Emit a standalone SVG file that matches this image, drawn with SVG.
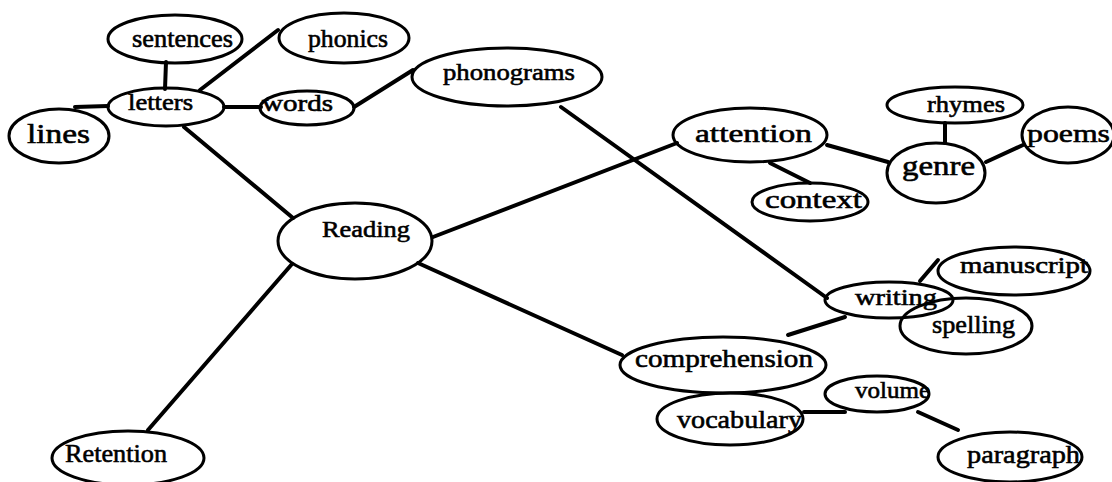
<svg xmlns="http://www.w3.org/2000/svg" width="1112" height="482" viewBox="0 0 1112 482">
  <style>
    .node ellipse { fill: none; stroke: #000; stroke-width: 3; }
    .node text { font-family: "Liberation Serif", "Times New Roman", serif; fill: #000; stroke: #000; stroke-width: 0.6; }
    #connectors line { stroke: #000; stroke-width: 4; stroke-linecap: round; }
  </style>
  <rect width="1112" height="482" fill="#fff"/>

  <!-- links between topics -->
  <g id="connectors">
    <line x1="75" y1="107" x2="108" y2="106"/>
    <line x1="166" y1="62" x2="165" y2="89"/>
    <line x1="200" y1="90" x2="278" y2="30"/>
    <line x1="224" y1="107" x2="261" y2="107"/>
    <line x1="354" y1="107" x2="413" y2="70"/>
    <line x1="184" y1="127" x2="293" y2="218"/>
    <line x1="561" y1="107" x2="827" y2="298"/>
    <line x1="433" y1="237" x2="677" y2="143"/>
    <line x1="770" y1="163" x2="810" y2="183"/>
    <line x1="827" y1="145" x2="888" y2="162"/>
    <line x1="945" y1="123" x2="945" y2="143"/>
    <line x1="986" y1="162" x2="1023" y2="145"/>
    <line x1="920" y1="281" x2="938" y2="260"/>
    <line x1="845" y1="317" x2="788" y2="335"/>
    <line x1="418" y1="263" x2="622" y2="355"/>
    <line x1="804" y1="412" x2="845" y2="412"/>
    <line x1="918" y1="412" x2="958" y2="430"/>
    <line x1="148" y1="430" x2="292" y2="264"/>
  </g>

  <g id="node-sentences" class="node">
    <ellipse cx="175" cy="39" rx="67" ry="24"/>
    <text x="132" y="47" font-size="25" textLength="101" lengthAdjust="spacingAndGlyphs">sentences</text>
  </g>
  <g id="node-phonics" class="node">
    <ellipse cx="344" cy="38" rx="65" ry="25"/>
    <text x="308" y="47" font-size="26" textLength="80" lengthAdjust="spacingAndGlyphs">phonics</text>
  </g>
  <g id="node-letters" class="node">
    <ellipse cx="166" cy="107" rx="58" ry="19"/>
    <text x="128" y="110" font-size="23" textLength="65" lengthAdjust="spacingAndGlyphs">letters</text>
  </g>
  <g id="node-words" class="node">
    <ellipse cx="307" cy="108" rx="47" ry="17"/>
    <text x="262" y="111" font-size="24" textLength="71" lengthAdjust="spacingAndGlyphs">words</text>
  </g>
  <g id="node-lines" class="node">
    <ellipse cx="59" cy="136" rx="50" ry="27"/>
    <text x="27" y="143" font-size="28" textLength="63" lengthAdjust="spacingAndGlyphs">lines</text>
  </g>
  <g id="node-phonograms" class="node">
    <ellipse cx="507" cy="77" rx="95" ry="29"/>
    <text x="443" y="80" font-size="24" textLength="132" lengthAdjust="spacingAndGlyphs">phonograms</text>
  </g>
  <g id="node-reading" class="node">
    <ellipse cx="355" cy="241" rx="77" ry="38"/>
    <text x="322" y="237" font-size="24" textLength="88" lengthAdjust="spacingAndGlyphs">Reading</text>
  </g>
  <g id="node-attention" class="node">
    <ellipse cx="750" cy="135" rx="77" ry="27"/>
    <text x="695" y="142" font-size="26" textLength="117" lengthAdjust="spacingAndGlyphs">attention</text>
  </g>
  <g id="node-context" class="node">
    <ellipse cx="810" cy="202" rx="58" ry="19"/>
    <text x="765" y="208" font-size="26" textLength="97" lengthAdjust="spacingAndGlyphs">context</text>
  </g>
  <g id="node-rhymes" class="node">
    <ellipse cx="955" cy="105" rx="68" ry="18"/>
    <text x="927" y="112" font-size="24" textLength="78" lengthAdjust="spacingAndGlyphs">rhymes</text>
  </g>
  <g id="node-genre" class="node">
    <ellipse cx="936" cy="173" rx="49" ry="30"/>
    <text x="902" y="175" font-size="28" textLength="73" lengthAdjust="spacingAndGlyphs">genre</text>
  </g>
  <g id="node-poems" class="node">
    <ellipse cx="1068" cy="135" rx="46" ry="28"/>
    <text x="1027" y="142" font-size="26" textLength="83" lengthAdjust="spacingAndGlyphs">poems</text>
  </g>
  <g id="node-manuscript" class="node">
    <ellipse cx="1014" cy="271" rx="76" ry="24"/>
    <text x="960" y="273" font-size="23" textLength="128" lengthAdjust="spacingAndGlyphs">manuscript</text>
  </g>
  <g id="node-writing" class="node">
    <ellipse cx="889" cy="300" rx="64" ry="18"/>
    <text x="855" y="305" font-size="24" textLength="82" lengthAdjust="spacingAndGlyphs">writing</text>
  </g>
  <g id="node-spelling" class="node">
    <ellipse cx="966" cy="326" rx="66" ry="28"/>
    <text x="932" y="333" font-size="26" textLength="83" lengthAdjust="spacingAndGlyphs">spelling</text>
  </g>
  <g id="node-comprehension" class="node">
    <ellipse cx="723" cy="365" rx="103" ry="28"/>
    <text x="635" y="367" font-size="26" textLength="178" lengthAdjust="spacingAndGlyphs">comprehension</text>
  </g>
  <g id="node-vocabulary" class="node">
    <ellipse cx="730" cy="419" rx="73" ry="26"/>
    <text x="677" y="428" font-size="26" textLength="125" lengthAdjust="spacingAndGlyphs">vocabulary</text>
  </g>
  <g id="node-volume" class="node">
    <ellipse cx="877" cy="394" rx="52" ry="18"/>
    <text x="855" y="398" font-size="24" textLength="75" lengthAdjust="spacingAndGlyphs">volume</text>
  </g>
  <g id="node-paragraph" class="node">
    <ellipse cx="1010" cy="457" rx="72" ry="25"/>
    <text x="967" y="463" font-size="26" textLength="113" lengthAdjust="spacingAndGlyphs">paragraph</text>
  </g>
  <g id="node-retention" class="node">
    <ellipse cx="128" cy="458" rx="76" ry="27"/>
    <text x="65" y="462" font-size="26" textLength="102" lengthAdjust="spacingAndGlyphs">Retention</text>
  </g>
</svg>
